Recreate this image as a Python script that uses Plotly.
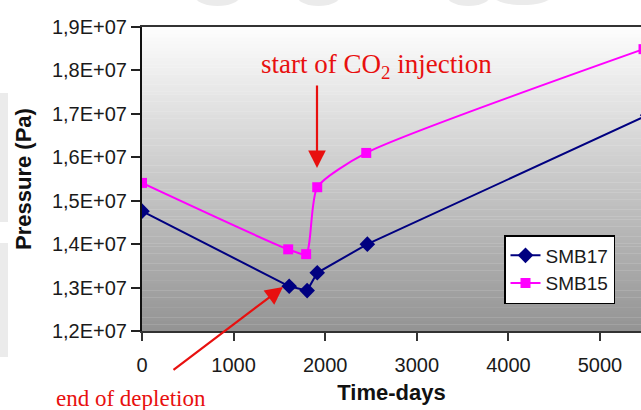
import plotly.graph_objects as go

# Pressure history of two wells (Pa) against time (days)
smb17_days = [0, 1607, 1803, 1913, 2460, 5520]
smb17_pa = [1.476e7, 1.303e7, 1.293e7, 1.334e7, 1.400e7, 1.697e7]

smb15_days = [0, 1596, 1792, 1913, 2448, 5475]
smb15_pa = [1.541e7, 1.388e7, 1.377e7, 1.531e7, 1.610e7, 1.849e7]

y_ticks = [1.2e7, 1.3e7, 1.4e7, 1.5e7, 1.6e7, 1.7e7, 1.8e7, 1.9e7]
y_tick_text = ["1,2E+07", "1,3E+07", "1,4E+07", "1,5E+07",
               "1,6E+07", "1,7E+07", "1,8E+07", "1,9E+07"]
x_ticks = [0, 1000, 2000, 3000, 4000, 5000]

W, H = 641, 410
L, R, T, B = 142, 0, 27, 79
PW, PH = W - L - R, H - T - B


def px(xp):
    return (xp - L) / PW


def py(yp):
    return (H - B - yp) / PH


fig = go.Figure()

fig.add_trace(go.Scatter(
    x=smb17_days, y=smb17_pa, name="SMB17", mode="lines+markers",
    line=dict(color="#000080", width=2),
    marker=dict(symbol="diamond", size=12, color="#000080"),
))
fig.add_trace(go.Scatter(
    x=smb15_days, y=smb15_pa, name="SMB15", mode="lines+markers",
    line=dict(color="#ff00ff", width=2, shape="spline", smoothing=0.6),
    marker=dict(symbol="square", size=10, color="#ff00ff"),
))

shapes = []
# vertical grey gradient filling the plot area
n = 90
top, bot = (253, 253, 253), (148, 148, 148)
for i in range(n):
    f = i / (n - 1)
    c = [round(top[k] + (bot[k] - top[k]) * f) for k in range(3)]
    shapes.append(dict(
        type="rect", xref="x domain", yref="y domain",
        x0=0, x1=1, y0=1 - (i + 1) / n - 0.001, y1=1 - i / n,
        fillcolor="rgb(%d,%d,%d)" % tuple(c), line=dict(width=0), layer="below",
    ))
# faint watermark marks along the page edges
for (x0, y0, x1, y1, kind) in [
    (0, 93, 8, 222, "rect"), (0, 243, 8, 357, "rect"),
    (195, -14, 240, 6, "circle"), (297, -14, 340, 6, "circle"),
    (447, -14, 490, 6, "circle"), (495, -10, 550, 5, "circle"),
]:
    shapes.append(dict(
        type=kind, xref="paper", yref="paper",
        x0=px(x0), x1=px(x1), y0=py(y1), y1=py(y0),
        fillcolor="rgba(215,215,215,0.5)", line=dict(width=0), layer="below",
    ))

red = "#e8100f"
annotations = [
    dict(text="start of CO<sub>2</sub> injection", xref="paper", yref="paper",
         x=px(376), y=py(66), xanchor="center", yanchor="middle",
         showarrow=False,
         font=dict(family="Liberation Serif", size=27, color=red)),
    dict(text="", xref="paper", yref="paper", x=px(317), y=py(168),
         ax=0, ay=-84, showarrow=True, arrowhead=2, arrowsize=1.6,
         arrowwidth=2.2, arrowcolor=red),
    dict(text="end of depletion", xref="paper", yref="paper",
         x=px(131), y=py(398), xanchor="center", yanchor="middle",
         showarrow=False,
         font=dict(family="Liberation Serif", size=23, color=red)),
    dict(text="", xref="paper", yref="paper", x=px(283), y=py(287),
         ax=-111, ay=84, showarrow=True, arrowhead=2, arrowsize=1.6,
         arrowwidth=2.2, arrowcolor=red),
]

axis_font = dict(family="Liberation Sans", size=20, color="#1a1a1a")
title_font = dict(family="Liberation Sans", size=22, color="#111111")

fig.update_layout(
    width=W, height=H,
    margin=dict(l=L, r=R, t=T, b=B),
    paper_bgcolor="white", plot_bgcolor="rgba(0,0,0,0)",
    showlegend=True,
    legend=dict(x=px(504), y=py(235), xanchor="left", yanchor="top",
                bgcolor="white", bordercolor="black", borderwidth=1.5,
                font=dict(family="Liberation Sans", size=19, color="#1a1a1a"),
                tracegroupgap=6),
    shapes=shapes,
    annotations=annotations,
    xaxis=dict(
        range=[0, PW / 91.6 * 1000], tickvals=x_ticks,
        ticks="outside", ticklen=8, tickwidth=1.5, tickcolor="#333",
        showline=True, linecolor="#333", linewidth=1.5, mirror=True,
        showgrid=False, zeroline=False, tickfont=axis_font,
        ticklabelstandoff=7,
        title=dict(text="<b>Time-days</b>", font=title_font, standoff=10),
    ),
    yaxis=dict(
        range=[1.2e7, 1.9e7], tickvals=y_ticks, ticktext=y_tick_text,
        ticks="outside", ticklen=9, tickwidth=1.5, tickcolor="#222",
        showline=True, linecolor="#111", linewidth=2,
        showgrid=False, zeroline=False, tickfont=axis_font,
        title=dict(text="<b>Pressure (Pa)</b>", font=title_font, standoff=14),
    ),
)

fig.write_html("out.html")
